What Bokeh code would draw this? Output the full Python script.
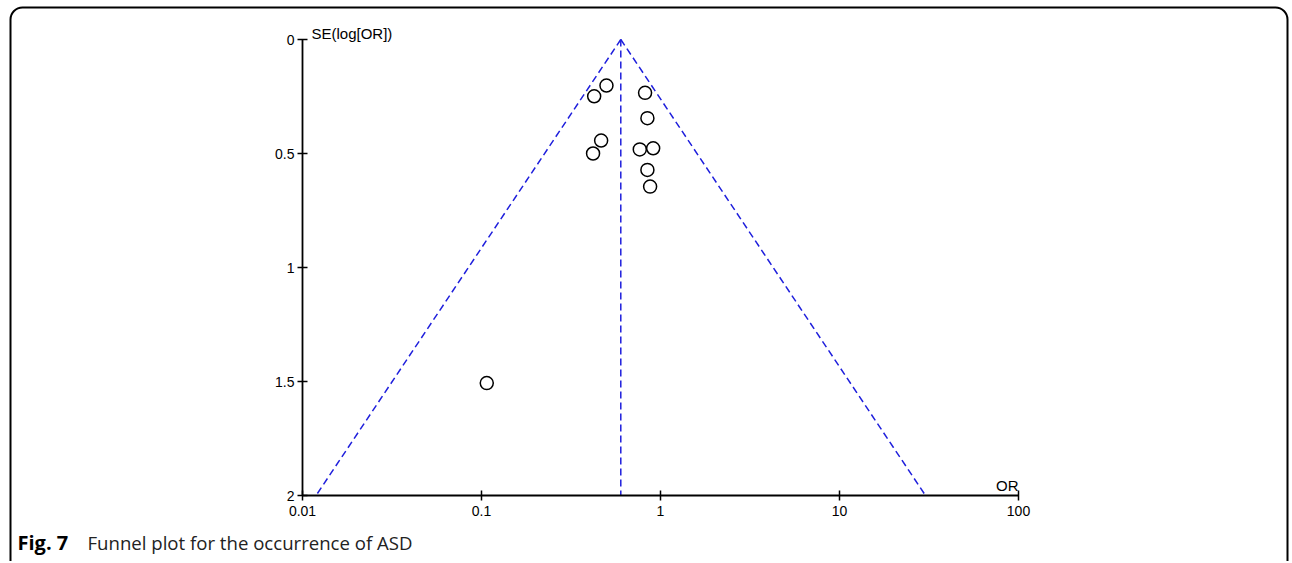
import numpy as np
from bokeh.plotting import figure
from bokeh.models import Range1d, FixedTicker, CustomJSTickFormatter, Label, BoxAnnotation
from bokeh.embed import file_html
from bokeh.resources import INLINE

# ---- data ----
study_or = [0.499, 0.426, 0.820, 0.845, 0.466, 0.420, 0.766, 0.910, 0.845, 0.875, 0.107]
study_se = [0.202, 0.249, 0.234, 0.345, 0.443, 0.500, 0.482, 0.477, 0.572, 0.645, 1.507]
pooled_or = 0.60
se_limit = 2.0
x_ticks = [0.01, 0.1, 1, 10, 100]
x_tick_labels = ["0.01", "0.1", "1", "10", "100"]
y_ticks = [0, 0.5, 1, 1.5, 2]
y_tick_labels = ["0", "0.5", "1", "1.5", "2"]
caption_bold = "Fig. 7"
caption_text = "Funnel plot for the occurrence of ASD"

# ---- layout geometry (pixels on the canvas) ----
W, H = 1290, 561
AX_L, AX_R = 302.0, 1018.0      # canvas x of OR = 0.01 and OR = 100
AX_T, AX_B = 39.0, 495.0        # canvas y of SE = 0 and SE = 2
dec_px = (AX_R - AX_L) / 4.0
se_px = (AX_B - AX_T) / 2.0


def px_to_or(px):
    return 10 ** (-2 + (px - AX_L) / dec_px)


def py_to_se(py):
    return (py - AX_T) / se_px


p = figure(width=W, height=H, x_axis_type="log",
           x_range=Range1d(px_to_or(0), px_to_or(W)),
           y_range=Range1d(py_to_se(H), py_to_se(0)),
           output_backend="svg", toolbar_location=None,
           min_border=0, min_border_left=0, min_border_right=0,
           min_border_top=0, min_border_bottom=0)
p.grid.visible = False
p.outline_line_color = None
p.background_fill_color = "white"
p.border_fill_color = "white"

fmt_code = """
for (let i = 0; i < tv.length; i++) {
  if (Math.abs(tick - tv[i]) <= 1e-9 * Math.max(1, Math.abs(tv[i]))) return tl[i];
}
return "";
"""
p.xaxis.ticker = FixedTicker(ticks=x_ticks)
p.xaxis.formatter = CustomJSTickFormatter(args=dict(tv=x_ticks, tl=x_tick_labels), code=fmt_code)
p.xaxis.fixed_location = se_limit
p.xaxis.bounds = (x_ticks[0], x_ticks[-1])
p.yaxis.ticker = FixedTicker(ticks=y_ticks)
p.yaxis.formatter = CustomJSTickFormatter(args=dict(tv=y_ticks, tl=y_tick_labels), code=fmt_code)
p.yaxis.fixed_location = x_ticks[0]
p.yaxis.bounds = (y_ticks[0], y_ticks[-1])

for ax in (p.xaxis[0], p.yaxis[0]):
    ax.axis_line_color = "black"
    ax.axis_line_width = 1.8
    ax.major_tick_line_color = "black"
    ax.major_tick_line_width = 1.5
    ax.major_tick_in = 5
    ax.major_tick_out = 5
    ax.minor_tick_line_color = None
    ax.major_label_text_font = "Liberation Sans"
    ax.major_label_text_font_size = "14px"
    ax.major_label_text_color = "black"
p.xaxis.major_label_standoff = 5
p.yaxis.major_label_standoff = 3

# funnel (pseudo 95% confidence limits)
se_line = np.array([0.0, se_limit])
lo = np.exp(np.log(pooled_or) - 1.96 * se_line)
hi = np.exp(np.log(pooled_or) + 1.96 * se_line)
blue = "#1f1fdc"
p.line(lo, se_line, line_color=blue, line_width=1.5, line_dash="7 4")
p.line(hi, se_line, line_color=blue, line_width=1.5, line_dash="7 4")
p.line([pooled_or, pooled_or], [0, se_limit], line_color=blue, line_width=1.5, line_dash="7 4")

p.scatter(study_or, study_se, marker="circle", size=13, fill_color=None,
          line_color="black", line_width=1.5)

# axis titles
p.add_layout(Label(x=x_ticks[0], y=y_ticks[0], text="SE(log[OR])", x_offset=9, y_offset=6,
                   text_font="Liberation Sans", text_font_size="15px",
                   text_baseline="middle", text_align="left", text_color="black"))
p.add_layout(Label(x=x_ticks[-1], y=se_limit, text="OR", x_offset=0, y_offset=2,
                   text_font="Liberation Sans", text_font_size="15px",
                   text_baseline="bottom", text_align="right", text_color="black"))

# caption
p.add_layout(Label(x=17, y=H - 542, x_units="screen", y_units="screen", text=caption_bold,
                   text_font="Open Sans", text_font_size="20px", text_font_style="bold",
                   text_baseline="middle", text_align="left", text_color="black"))
p.add_layout(Label(x=87, y=H - 542, x_units="screen", y_units="screen", text=caption_text,
                   text_font="Open Sans", text_font_size="18.6px",
                   text_baseline="middle", text_align="left", text_color="#222222"))

# rounded outer frame
p.add_layout(BoxAnnotation(left=px_to_or(10), right=px_to_or(1287),
                           top=py_to_se(7), bottom=py_to_se(H + 30),
                           fill_color=None, fill_alpha=0,
                           line_color="black", line_alpha=1.0, line_width=2,
                           border_radius=12, level="overlay"))

open("out.html", "w").write(file_html(p, INLINE))
